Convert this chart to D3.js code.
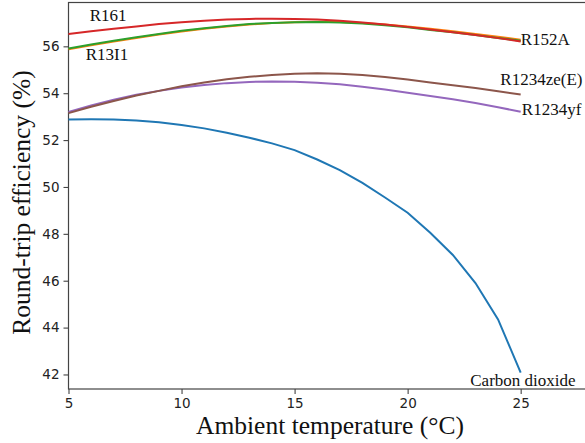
<!DOCTYPE html>
<html>
<head>
<meta charset="utf-8">
<script src="https://cdn.jsdelivr.net/npm/d3@7"></script>
<style>
  body { margin: 0; background: #fff; }
  svg { display: block; }
</style>
</head>
<body>
<svg id="chart" width="585" height="443"></svg>
<script>
// ambient temperature samples (°C)
const temps = [5, 6, 7, 8, 9, 10, 11, 12, 13, 14, 15, 16, 17, 18, 19, 20, 21, 22, 23, 24, 25]

// round-trip efficiency (%) per working fluid
const co2 = [52.88, 52.89, 52.88, 52.84, 52.76, 52.64, 52.5, 52.31, 52.1, 51.86, 51.57, 51.17, 50.72, 50.17, 49.55, 48.9, 48.05, 47.1, 45.9, 44.35, 42.08]
const r152a = [55.88, 56.05, 56.21, 56.36, 56.5, 56.63, 56.75, 56.85, 56.93, 56.99, 57.03, 57.05, 57.04, 57.0, 56.93, 56.85, 56.75, 56.64, 56.53, 56.41, 56.28]
const r13i1 = [55.91, 56.08, 56.24, 56.39, 56.53, 56.66, 56.77, 56.87, 56.95, 57.0, 57.03, 57.04, 57.02, 56.97, 56.9, 56.81, 56.7, 56.6, 56.48, 56.36, 56.24]
const r161 = [56.53, 56.64, 56.75, 56.85, 56.95, 57.03, 57.09, 57.14, 57.17, 57.18, 57.17, 57.14, 57.09, 57.02, 56.93, 56.83, 56.72, 56.6, 56.48, 56.35, 56.21]
const r1234yf = [53.2, 53.48, 53.72, 53.93, 54.1, 54.24, 54.35, 54.43, 54.48, 54.5, 54.49, 54.45, 54.38, 54.28, 54.16, 54.02, 53.88, 53.74, 53.58, 53.4, 53.21]
const r1234ze = [53.15, 53.42, 53.67, 53.9, 54.1, 54.3, 54.46, 54.6, 54.7, 54.78, 54.83, 54.85, 54.83, 54.78, 54.69, 54.58, 54.46, 54.34, 54.22, 54.08, 53.94]

const xTicks = [5, 10, 15, 20, 25]
const yTicks = [42, 44, 46, 48, 50, 52, 54, 56]

// drawing order follows the matplotlib colour cycle
const series = [
  { name: 'Carbon dioxide', values: co2, color: '#1f77b4' },
  { name: 'R152A', values: r152a, color: '#ff7f0e' },
  { name: 'R13I1', values: r13i1, color: '#2ca02c' },
  { name: 'R161', values: r161, color: '#d62728' },
  { name: 'R1234yf', values: r1234yf, color: '#9467bd' },
  { name: 'R1234ze(E)', values: r1234ze, color: '#8c564b' }
]

// text labels, placed in data units
const labels = [
  { text: 'R161', x: 6.75, y: 57.32, anchor: 'middle' },
  { text: 'R13I1', x: 6.7, y: 55.64, anchor: 'middle' },
  { text: 'R152A', x: 25, y: 56.3, anchor: 'start' },
  { text: 'R1234ze(E)', x: 24.1, y: 54.57, anchor: 'start' },
  { text: 'R1234yf', x: 25.05, y: 53.3, anchor: 'start' },
  { text: 'Carbon dioxide', x: 25.1, y: 41.75, anchor: 'middle' }
]

const margin = { top: 2.5, left: 68.5, bottom: 389 }
const w = 588.5 - margin.left
const h = margin.bottom - margin.top

const svg = d3.select('#chart')
const g = svg.append('g')
  .attr('transform', `translate(${margin.left},${margin.top})`)

const xScale = d3.scaleLinear().domain([5, 28]).range([0, w])
const yScale = d3.scaleLinear().domain([41.38, 57.87]).range([h, 0])

// axes
g.append('g')
  .attr('transform', `translate(0,${h})`)
  .call(d3.axisBottom(xScale).tickValues(xTicks).tickSize(5).tickPadding(4))
  .call(ax => ax.select('.domain').remove())

g.append('g')
  .call(d3.axisLeft(yScale).tickValues(yTicks).tickSize(5).tickPadding(4))
  .call(ax => ax.select('.domain').remove())

g.selectAll('.tick line').attr('stroke', '#444').attr('stroke-width', 1.1)
g.selectAll('.tick text')
  .attr('fill', '#222')
  .style('font-family', 'DejaVu Sans')
  .style('font-size', '13.5px')

// spines
g.append('rect')
  .attr('width', w)
  .attr('height', h)
  .attr('fill', 'none')
  .attr('stroke', '#444')
  .attr('stroke-width', 1.2)

// lines
const line = d3.line()
  .x((d, i) => xScale(temps[i]))
  .y(d => yScale(d))

g.selectAll('.series')
  .data(series)
  .enter()
  .append('path')
  .attr('class', 'series')
  .attr('d', d => line(d.values))
  .attr('fill', 'none')
  .attr('stroke', d => d.color)
  .attr('stroke-width', 2)

g.selectAll('.label')
  .data(labels)
  .enter()
  .append('text')
  .attr('class', 'label')
  .attr('x', d => xScale(d.x))
  .attr('y', d => yScale(d.y))
  .attr('dy', '0.33em')
  .attr('text-anchor', d => d.anchor)
  .text(d => d.text)
  .style('font-family', 'Liberation Serif')
  .style('font-size', '17px')
  .attr('fill', '#111')

// axis titles
svg.append('text')
  .attr('x', 330)
  .attr('y', 434)
  .attr('text-anchor', 'middle')
  .text('Ambient temperature (°C)')
  .style('font-family', 'Liberation Serif')
  .style('font-size', '25.5px')
  .attr('fill', '#111')

svg.append('text')
  .attr('transform', 'translate(30,202.5) rotate(-90)')
  .attr('text-anchor', 'middle')
  .text('Round-trip efficiency (%)')
  .style('font-family', 'Liberation Serif')
  .style('font-size', '25.5px')
  .attr('fill', '#111')
</script>
</body>
</html>
